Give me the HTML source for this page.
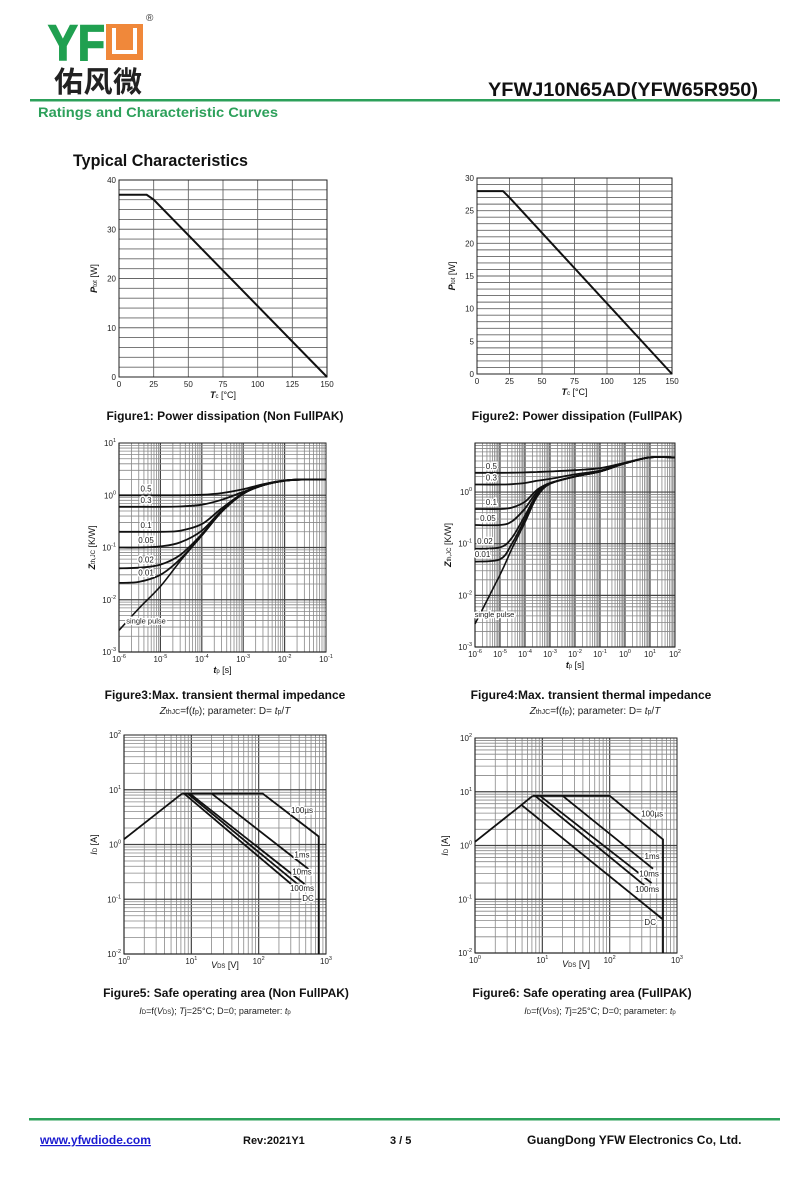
<!DOCTYPE html>
<html><head><meta charset="utf-8">
<style>
html,body{margin:0;padding:0;background:#fff;}
svg{display:block;font-family:"Liberation Sans","Noto Sans CJK SC",sans-serif;}
</style></head>
<body>
<svg id="page" width="800" height="1183" viewBox="0 0 800 1183" xmlns="http://www.w3.org/2000/svg">
  <g>
    <text x="48" y="60" font-size="50" font-weight="bold" fill="#20a050" stroke="#20a050" stroke-width="1.5" textLength="57" lengthAdjust="spacingAndGlyphs">YF</text>
    <rect x="106" y="24" width="37" height="36" fill="#f0883a"/>
    <path d="M114 28 V52 H135 V28" fill="none" stroke="#fff" stroke-width="4"/>
    <text x="146" y="21" font-size="10" fill="#333">®</text>
    <text x="54" y="92" font-size="29" font-family="'Noto Sans CJK SC',sans-serif" font-weight="bold" fill="#222" textLength="88">佑风微</text>
    <text x="758" y="96" font-size="19" font-weight="bold" text-anchor="end" fill="#111" textLength="270" lengthAdjust="spacingAndGlyphs">YFWJ10N65AD(YFW65R950)</text>
    <rect x="30" y="99" width="750" height="2.5" fill="#2ca05a"/>
    <text x="38" y="117" font-size="14" font-weight="bold" fill="#2ca05a" textLength="240" lengthAdjust="spacingAndGlyphs">Ratings and Characteristic Curves</text>
    <text x="73" y="166" font-size="17" font-weight="bold" fill="#111" textLength="175" lengthAdjust="spacingAndGlyphs">Typical Characteristics</text>
  </g>
  <g id="charts"></g>
  <g font-size="12" font-weight="bold" fill="#111" text-anchor="middle">
    <text x="225" y="420">Figure1: Power dissipation (Non FullPAK)</text>
    <text x="577" y="420">Figure2: Power dissipation (FullPAK)</text>
    <text x="225" y="699">Figure3:Max. transient thermal impedance</text>
    <text x="591" y="699">Figure4:Max. transient thermal impedance</text>
    <text x="226" y="997">Figure5: Safe operating area (Non FullPAK)</text>
    <text x="582" y="997">Figure6: Safe operating area (FullPAK)</text>
  </g>
  <g font-size="10" fill="#222" text-anchor="middle">
    <text x="225" y="714"><tspan font-style="italic">Z</tspan><tspan font-size="7">thJC</tspan>=f(<tspan font-style="italic">t</tspan><tspan font-size="7">p</tspan>); parameter: D= <tspan font-style="italic">t</tspan><tspan font-size="7">p</tspan>/<tspan font-style="italic">T</tspan></text>
    <text x="595" y="714"><tspan font-style="italic">Z</tspan><tspan font-size="7">thJC</tspan>=f(<tspan font-style="italic">t</tspan><tspan font-size="7">p</tspan>); parameter: D= <tspan font-style="italic">t</tspan><tspan font-size="7">p</tspan>/<tspan font-style="italic">T</tspan></text>
    <text x="215" y="1014" font-size="9"><tspan font-style="italic">I</tspan><tspan font-size="6">D</tspan>=f(<tspan font-style="italic">V</tspan><tspan font-size="6">DS</tspan>); <tspan font-style="italic">T</tspan>j=25°C; D=0; parameter: <tspan font-style="italic">t</tspan><tspan font-size="6">p</tspan></text>
    <text x="600" y="1014" font-size="9"><tspan font-style="italic">I</tspan><tspan font-size="6">D</tspan>=f(<tspan font-style="italic">V</tspan><tspan font-size="6">DS</tspan>); <tspan font-style="italic">T</tspan>j=25°C; D=0; parameter: <tspan font-style="italic">t</tspan><tspan font-size="6">p</tspan></text>
  </g>
  <g font-size="12" font-weight="bold" fill="#111">
    <rect x="29" y="1118" width="751" height="2.5" fill="#2ca05a"/>
    <text x="40" y="1144" fill="#1a1ad0" text-decoration="underline">www.yfwdiode.com</text>
    <text x="243" y="1144" font-size="11">Rev:2021Y1</text>
    <text x="390" y="1144" font-size="11">3 / 5</text>
    <text x="527" y="1144">GuangDong YFW Electronics Co, Ltd.</text>
  </g>
</svg>
<script>
// ---------- Figure 1/2 data ----------
const fig1Temp=[0,20,25,150];
const fig1Power=[37,37,36,0];
const fig1YTicks=[0,10,20,30,40];
const fig2Temp=[0,20,25,150];
const fig2Power=[28,28,27,0];
const fig2YTicks=[0,5,10,15,20,25,30];
const tempTicks=[0,25,50,75,100,125,150];

// ---------- Figure 3 data ----------
const fig3Tp=[1e-6,3e-6,1e-5,3e-5,1e-4,3e-4,1e-3,3e-3,1e-2,3e-2,1e-1];
const fig3Single=[0.0026,0.0068,0.018,0.055,0.17,0.48,1.07,1.6,1.9,2.0,2.0];
const fig3D05=[1.0,1.0,1.0,1.0,1.02,1.1,1.3,1.62,1.92,2.0,2.0];
const fig3D03=[0.6,0.6,0.6,0.61,0.66,0.82,1.16,1.58,1.9,2.0,2.0];
const fig3D01=[0.2,0.2,0.2,0.21,0.28,0.56,1.1,1.56,1.9,2.0,2.0];
const fig3D005=[0.1,0.1,0.105,0.125,0.21,0.51,1.08,1.55,1.9,2.0,2.0];
const fig3D002=[0.04,0.041,0.047,0.072,0.18,0.49,1.07,1.55,1.9,2.0,2.0];
const fig3D001=[0.021,0.022,0.03,0.06,0.17,0.48,1.07,1.55,1.9,2.0,2.0];
const dutyLabels=['0.5','0.3','0.1','0.05','0.02','0.01'];

// ---------- Figure 4 data ----------
const fig4Tp=[1e-6,1e-5,3e-5,1e-4,3e-4,1e-3,1e-2,1e-1,1,10,100];
const fig4Single=[0.0028,0.025,0.08,0.26,0.8,1.45,2.0,2.5,3.6,4.7,4.7];
const fig4D05=[2.36,2.36,2.37,2.4,2.45,2.5,2.65,2.9,3.7,4.7,4.7];
const fig4D03=[1.4,1.4,1.42,1.5,1.65,1.8,2.2,2.6,3.6,4.7,4.7];
const fig4D01=[0.47,0.47,0.5,0.65,1.1,1.5,2.0,2.5,3.6,4.7,4.7];
const fig4D005=[0.23,0.23,0.27,0.48,1.0,1.47,2.0,2.5,3.6,4.7,4.7];
const fig4D002=[0.08,0.085,0.13,0.35,0.9,1.45,2.0,2.5,3.6,4.7,4.7];
const fig4D001=[0.045,0.05,0.1,0.3,0.85,1.45,2.0,2.5,3.6,4.7,4.7];

// ---------- Figure 5 data (V, A) ----------
const fig5RiseV=[1,7.3]; const fig5RiseI=[1.25,8.5];
const fig5Us100V=[7.3,115,780,780]; const fig5Us100I=[8.5,8.5,1.4,0.01];
const fig5Ms1V=[20,560]; const fig5Ms1I=[8.5,0.35];
const fig5Ms10V=[9.5,480]; const fig5Ms10I=[8.5,0.19];
const fig5Ms100V=[8.8,420]; const fig5Ms100I=[8.5,0.17];
const fig5DcV=[7.8,380]; const fig5DcI=[8.5,0.15];
const soaLabels=['100µs','1ms','10ms','100ms','DC'];
const fig5LabelV=[440,440,440,440,540];
const fig5LabelI=[4.3,0.65,0.32,0.16,0.105];

// ---------- Figure 6 data (V, A) ----------
const fig6RiseV=[1,4.9,7.2]; const fig6RiseI=[1.17,5.7,8.4];
const fig6Us100V=[7.2,100,620,620]; const fig6Us100I=[8.4,8.4,1.3,0.01];
const fig6Ms1V=[20,440]; const fig6Ms1I=[8.4,0.37];
const fig6Ms10V=[9.2,420]; const fig6Ms10I=[8.4,0.2];
const fig6Ms100V=[7.8,350]; const fig6Ms100I=[8.4,0.17];
const fig6DcV=[4.9,620]; const fig6DcI=[5.7,0.042];
const fig6LabelV=[427,427,385,360,400];
const fig6LabelI=[3.9,0.64,0.3,0.155,0.038];

const NS='http://www.w3.org/2000/svg';
const root=document.getElementById('charts');
function mk(tag,attrs,parent){const e=document.createElementNS(NS,tag);for(const k in attrs)e.setAttribute(k,attrs[k]);(parent||root).appendChild(e);return e;}
const L=Math.log10;

function linAxis(d0,d1,p0,p1){return v=>p0+(v-d0)/(d1-d0)*(p1-p0);}
function logAxis(e0,e1,p0,p1){return v=>p0+(L(v)-e0)/(e1-e0)*(p1-p0);}

function pathFrom(xs,ys,sx,sy,smooth){
  const p=xs.map((x,i)=>[sx(x),sy(ys[i])]);
  if(!smooth||p.length<3)return 'M'+p.map(q=>q[0].toFixed(1)+' '+q[1].toFixed(1)).join(' L');
  let d='M'+p[0][0].toFixed(1)+' '+p[0][1].toFixed(1);
  for(let i=0;i<p.length-1;i++){
    const a=p[Math.max(0,i-1)],b=p[i],c=p[i+1],e=p[Math.min(p.length-1,i+2)];
    const c1=[b[0]+(c[0]-a[0])/6,b[1]+(c[1]-a[1])/6],c2=[c[0]-(e[0]-b[0])/6,c[1]-(e[1]-b[1])/6];
    d+=' C'+c1.map(v=>v.toFixed(1)).join(' ')+' '+c2.map(v=>v.toFixed(1)).join(' ')+' '+c[0].toFixed(1)+' '+c[1].toFixed(1);
  }
  return d;
}

function powLabel(g,x,y,exp,anchor){
  const t=mk('text',{x:x,y:y,'font-size':8,'text-anchor':anchor,fill:'#222'},g);
  
  
  t.textContent='10';
  const s=mk('tspan',{dy:-4,'font-size':5.5},t);s.textContent=String(exp);
}

function frame(g,x0,y0,x1,y1){
  const r=mk('rect',{x:x0,y:y0,width:x1-x0,height:y1-y0,fill:'none',stroke:'#222','stroke-width':1},g);
  
  
}

function powerChart(name,box,ymax,ystep,xs,ys,yTicks){
  const g=mk('g',{});
  
  
  const sx=linAxis(0,150,box[0],box[2]),sy=linAxis(0,ymax,box[3],box[1]);
  for(let v=ystep;v<ymax;v+=ystep){const ln=mk('line',{x1:box[0],x2:box[2],y1:sy(v),y2:sy(v),stroke:'#666','stroke-width':0.9},g);
    
    }
  tempTicks.forEach(v=>{const ln=mk('line',{x1:sx(v),x2:sx(v),y1:box[1],y2:box[3],stroke:'#666','stroke-width':0.9},g);
    
    
    const t=mk('text',{x:sx(v),y:box[3]+10,'font-size':8,'text-anchor':'middle',fill:'#222'},g);
    
    
    t.textContent=v;});
  yTicks.forEach(v=>{const t=mk('text',{x:box[0]-3,y:sy(v)+3,'font-size':8,'text-anchor':'end',fill:'#222'},g);
    
    
    t.textContent=v;});
  frame(g,box[0],box[1],box[2],box[3]);
  const p=mk('path',{d:pathFrom(xs,ys,sx,sy,false),fill:'none',stroke:'#111','stroke-width':2},g);
  
  
  const cx=(box[0]+box[2])/2;
  const xt=mk('text',{x:cx,y:box[3]+21,'font-size':9,'text-anchor':'middle',fill:'#111'},g);
  
  
  xt.innerHTML='<tspan font-style="italic" font-weight="bold">T</tspan><tspan font-size="6">c</tspan> [°C]';
  const yx=box[0]-22,yy=(box[1]+box[3])/2;
  const yt=mk('text',{x:yx,y:yy,'font-size':9,'text-anchor':'middle',fill:'#111',transform:`rotate(-90 ${yx} ${yy})`},g);
  
  
  yt.innerHTML='<tspan font-style="italic" font-weight="bold">P</tspan><tspan font-size="6">tot</tspan> [W]';
}
powerChart('figure1-power-chart',[119,180,327,377],40,2,fig1Temp,fig1Power,fig1YTicks);
powerChart('figure2-power-chart',[477,178,672,374],30,1,fig2Temp,fig2Power,fig2YTicks);

function logGrid(g,box,xe0,xe1,ye0,ye1,sx,sy){
  for(let d=xe0;d<xe1;d++)for(let k=1;k<=9;k++){const v=k*Math.pow(10,d);const x=sx(v);
    const ln=mk('line',{x1:x,x2:x,y1:box[1],y2:box[3],stroke:k===1?'#444':'#888','stroke-width':k===1?1.2:0.8},g);
    
    }
  for(let d=Math.floor(ye0);d<Math.ceil(ye1);d++)for(let k=1;k<=9;k++){const v=k*Math.pow(10,d);if(L(v)<ye0||L(v)>ye1)continue;const y=sy(v);
    const ln=mk('line',{x1:box[0],x2:box[2],y1:y,y2:y,stroke:k===1?'#444':'#888','stroke-width':k===1?1.2:0.8},g);
    
    }
  for(let d=xe0;d<=xe1;d++)powLabel(g,sx(Math.pow(10,d)),box[3]+10,d,'middle');
  for(let d=Math.ceil(ye0);d<=Math.floor(ye1);d++)powLabel(g,box[0]-3,sy(Math.pow(10,d))+3,d,'end');
  frame(g,box[0],box[1],box[2],box[3]);
}
function interpLog(xs,ys,x){for(let i=0;i<xs.length-1;i++){if(x>=xs[i]&&x<=xs[i+1]){const t=(L(x)-L(xs[i]))/(L(xs[i+1])-L(xs[i]));return Math.pow(10,L(ys[i])+t*(L(ys[i+1])-L(ys[i])));}}return ys[ys.length-1];}
function curveLabel(g,x,y,txt,size){
  const t=mk('text',{x:x,y:y,'font-size':size||8,'text-anchor':'middle',fill:'#222',stroke:'#fff','stroke-width':3,'paint-order':'stroke'},g);
  
  
  t.textContent=txt;
}
function zthTitles(g,box){
  const cx=(box[0]+box[2])/2;
  const xt=mk('text',{x:cx,y:box[3]+21,'font-size':9,'text-anchor':'middle',fill:'#111'},g);
  
  
  xt.innerHTML='<tspan font-style="italic" font-weight="bold">t</tspan><tspan font-size="6">p</tspan> [s]';
  const yx=box[0]-24,yy=(box[1]+box[3])/2;
  const yt=mk('text',{x:yx,y:yy,'font-size':9,'text-anchor':'middle',fill:'#111',transform:`rotate(-90 ${yx} ${yy})`},g);
  
  
  yt.innerHTML='<tspan font-style="italic" font-weight="bold">Z</tspan><tspan font-size="6">th,JC</tspan> [K/W]';
}
function zthChart(name,box,xe0,xe1,ye0,ye1,tp,series,single,labX,singleX,singleY){
  const g=mk('g',{});
  
  
  const sx=logAxis(xe0,xe1,box[0],box[2]),sy=logAxis(ye0,ye1,box[3],box[1]);
  logGrid(g,box,xe0,xe1,ye0,ye1,sx,sy);
  series.forEach((s,i)=>{const p=mk('path',{d:pathFrom(tp,s,sx,sy,true),fill:'none',stroke:'#111','stroke-width':1.8},g);
    
    
    curveLabel(g,sx(labX[i]),sy(interpLog(tp,s,labX[i]))-4,dutyLabels[i]);});
  const p=mk('path',{d:pathFrom(tp,single,sx,sy,true),fill:'none',stroke:'#111','stroke-width':1.6},g);
  
  
  curveLabel(g,sx(singleX),sy(singleY),'single pulse',7.5);
  zthTitles(g,box);
}
zthChart('figure3-zth-chart',[119,443,326,652],-6,-1,-3,1,fig3Tp,
  [fig3D05,fig3D03,fig3D01,fig3D005,fig3D002,fig3D001],fig3Single,
  [4.5e-6,4.5e-6,4.5e-6,4.5e-6,4.5e-6,4.5e-6],4.5e-6,0.0035);
zthChart('figure4-zth-chart',[475,443,675,647],-6,2,-3,0.95,fig4Tp,
  [fig4D05,fig4D03,fig4D01,fig4D005,fig4D002,fig4D001],fig4Single,
  [4.5e-6,4.5e-6,4.5e-6,3.3e-6,2.5e-6,2e-6],6e-6,0.0038);

function soaChart(name,box,series,labV,labI){
  const g=mk('g',{});
  
  
  const sx=logAxis(0,3,box[0],box[2]),sy=logAxis(-2,2,box[3],box[1]);
  logGrid(g,box,0,3,-2,2,sx,sy);
  series.forEach(s=>{const p=mk('path',{d:pathFrom(s[1],s[2],sx,sy,false),fill:'none',stroke:'#111','stroke-width':1.8},g);
    
    });
  soaLabels.forEach((t,i)=>curveLabel(g,sx(labV[i]),sy(labI[i])+3,t));
  const cx=(box[0]+box[2])/2;
  const xt=mk('text',{x:cx,y:box[3]+14,'font-size':9,'text-anchor':'middle',fill:'#111'},g);
  
  
  xt.innerHTML='<tspan font-style="italic">V</tspan><tspan font-size="6">DS</tspan> [V]';
  const yx=box[0]-27,yy=(box[1]+box[3])/2;
  const yt=mk('text',{x:yx,y:yy,'font-size':9,'text-anchor':'middle',fill:'#111',transform:`rotate(-90 ${yx} ${yy})`},g);
  
  
  yt.innerHTML='<tspan font-style="italic">I</tspan><tspan font-size="6">D</tspan> [A]';
}
soaChart('figure5-soa-chart',[124,735,326,954],
  [['rise',fig5RiseV,fig5RiseI],['100us',fig5Us100V,fig5Us100I],['1ms',fig5Ms1V,fig5Ms1I],['10ms',fig5Ms10V,fig5Ms10I],['100ms',fig5Ms100V,fig5Ms100I],['dc',fig5DcV,fig5DcI]],
  fig5LabelV,fig5LabelI);
soaChart('figure6-soa-chart',[475,738,677,953],
  [['rise',fig6RiseV,fig6RiseI],['100us',fig6Us100V,fig6Us100I],['1ms',fig6Ms1V,fig6Ms1I],['10ms',fig6Ms10V,fig6Ms10I],['100ms',fig6Ms100V,fig6Ms100I],['dc',fig6DcV,fig6DcI]],
  fig6LabelV,fig6LabelI);
</script>
</body></html>
